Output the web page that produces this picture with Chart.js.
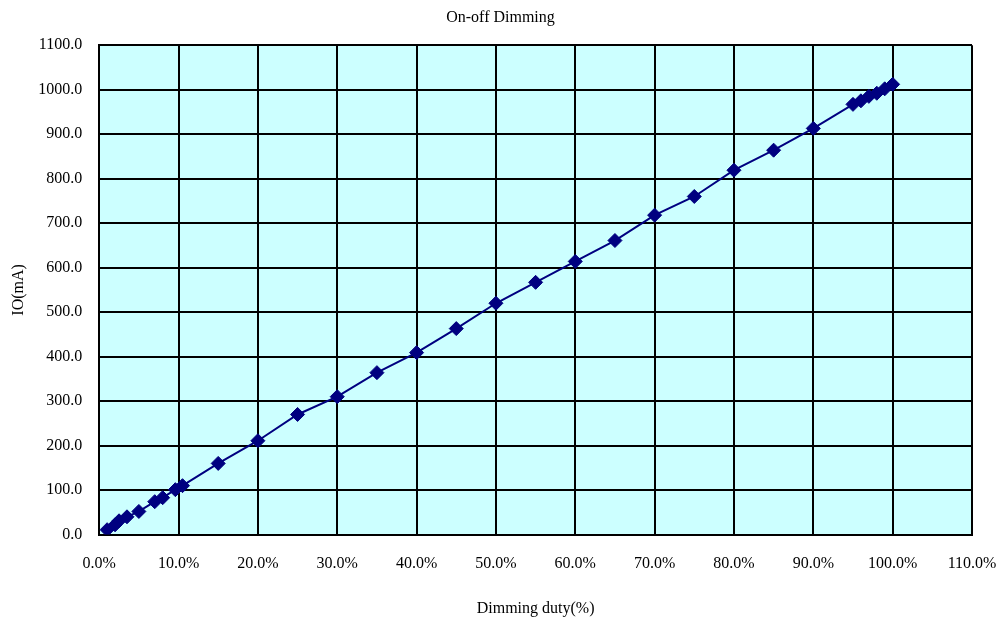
<!DOCTYPE html>
<html lang="en">
<head>
  <meta charset="UTF-8">
  <title>On-off Dimming</title>
  <script src="https://cdn.jsdelivr.net/npm/chart.js"></script>
  <style>
    html, body {
      margin: 0;
      padding: 0;
      background: #fff;
    }
    #wrap {
      width: 996px;
      height: 619px;
    }
  </style>
</head>
<body>
  <div id="wrap">
    <canvas id="dimChart"></canvas>
  </div>

  <script>
    // duty (%) vs output current (mA)
    const duty = [1, 2, 2.5, 3.5, 5, 7, 8, 9.6, 10.5, 15, 20, 25, 30, 35, 40, 45, 50, 55, 60, 65, 70, 75, 80, 85, 90, 95, 96, 97, 98, 99, 100];
    const current = [11, 22, 31, 40, 52, 74, 83, 101, 110, 160, 211, 270, 310, 364, 409, 463, 520, 567, 614, 661, 718, 760, 819, 864, 913, 967, 975, 985, 992, 1002, 1012];

    const points = duty.map((d, i) => ({ x: d, y: current[i] }));

    const plotBg = {
      id: "plotBg",
      beforeDraw(chart) {
        const { ctx, chartArea: a } = chart;
        ctx.save();
        ctx.fillStyle = "#ccffff";
        ctx.fillRect(a.left, a.top, a.right - a.left, a.bottom - a.top);
        ctx.restore();
      }
    };

    const serif = "'Liberation Serif', 'Times New Roman', serif";

    new Chart(document.getElementById("dimChart").getContext("2d"), {
      type: "scatter",
      data: {
        datasets: [{
          label: "IO",
          data: points,
          showLine: true,
          borderColor: "#000080",
          borderWidth: 2,
          backgroundColor: "#000080",
          pointStyle: "rectRot",
          pointRadius: 7,
          pointBorderWidth: 1
        }]
      },
      options: {
        responsive: true,
        maintainAspectRatio: false,
        animation: false,
        layout: { padding: { top: 8, right: 0, bottom: -3, left: 5 } },
        plugins: {
          legend: { display: false },
          tooltip: { enabled: false },
          title: {
            display: true,
            text: "On-off Dimming",
            color: "#000",
            font: { family: serif, size: 16, weight: "normal" },
            padding: { top: 0, bottom: 18 }
          }
        },
        scales: {
          x: {
            type: "linear",
            min: 0,
            max: 110,
            afterFit: s => { s.paddingRight = 24; },
            ticks: {
              stepSize: 10,
              color: "#000",
              padding: 20,
              font: { family: serif, size: 16 },
              callback: v => v.toFixed(1) + "%"
            },
            grid: { color: "#000", lineWidth: 2, drawTicks: false },
            border: { color: "#000", width: 2 },
            title: {
              display: true,
              text: "Dimming duty(%)",
              color: "#000",
              font: { family: serif, size: 16 },
              padding: { top: 5 }
            }
          },
          y: {
            min: 0,
            max: 1100,
            afterFit: s => { s.width -= 7; },
            ticks: {
              stepSize: 100,
              color: "#000",
              padding: 17,
              font: { family: serif, size: 16 },
              callback: v => v.toFixed(1)
            },
            grid: { color: "#000", lineWidth: 2, drawTicks: false },
            border: { color: "#000", width: 2 },
            title: {
              display: true,
              text: "IO(mA)",
              color: "#000",
              font: { family: serif, size: 16 },
              padding: { bottom: 0 }
            }
          }
        }
      },
      plugins: [plotBg]
    });
  </script>
</body>
</html>
